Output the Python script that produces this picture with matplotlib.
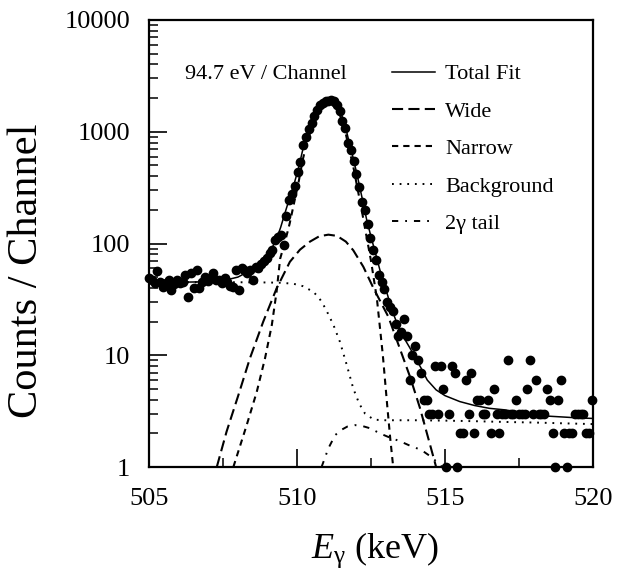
import numpy as np
import matplotlib
matplotlib.use("Agg")
import matplotlib.pyplot as plt
from matplotlib.ticker import FixedLocator, LogLocator, NullFormatter, FixedFormatter

plt.rcParams['font.family'] = ['Liberation Serif', 'DejaVu Serif']
plt.rcParams['mathtext.fontset'] = 'custom'
plt.rcParams['mathtext.rm'] = 'Liberation Serif'
plt.rcParams['mathtext.it'] = 'Liberation Serif:italic'
plt.rcParams['lines.scale_dashes'] = False

# ---- data ----
E_start = 505.0          # keV, first channel
channel_width = 0.0947   # keV (94.7 eV / channel)
counts = [49, 47, 44, 57, 45, 41, 44, 47, 38, 43, 47, 44, 45, 52, 33, 54, 40, 58, 40, 45,
          50, 46, 49, 54, 47, 47, 44, 49, 45, 42, 41, 58, 38, 60, 58, 54, 58, 47, 62, 60,
          66, 70, 74, 82, 87, 107, 115, 118, 97,
          175, 245, 280, 330, 440, 540, 760, 890, 1060, 1190, 1380, 1560, 1720, 1820, 1880,
          1900, 1920, 1870, 1740, 1520, 1250, 1080, 800, 680, 545, 420, 320, 235, 200, 150,
          112, 88,
          71, 52, 45, 39, 30, 27, 25, 19, 15, 16, 21, 15, 6, 10, 12, 9, 7,
          4, 4, 3, 3, 8, 3, 8, 5, 1, 3, 8, 7, 1, 2, 2, 6, 3, 7, 2, 4,
          4, 3, 3, 4, 2, 5, 3, 2, 3, 3, 9, 3, 3, 4, 3, 3, 3, 5, 9, 3,
          6, 3, 3, 3, 5, 4, 2, 1, 4, 6, 2, 1, 2, 2, 3, 3, 3, 3, 2, 2, 4]

fit_E = [505.0, 506.0, 507.0, 507.5, 508.0, 508.3, 508.6, 508.9, 509.1, 509.3,
         509.45, 509.6, 509.75, 509.9, 510.05, 510.2, 510.35, 510.5, 510.65, 510.8,
         510.95, 511.05, 511.15, 511.3, 511.45, 511.6, 511.75, 511.9, 512.05, 512.2,
         512.35, 512.5, 512.65, 512.8, 513.0, 513.2, 513.4, 513.6, 513.8, 514.0,
         514.2, 514.4, 514.7, 515.0, 515.5, 516.0, 516.5, 517.0, 517.5, 518.0,
         518.5, 519.0, 519.5, 520.0]
fit_V = [45, 45, 45.5, 46.5, 50, 55, 62, 74, 86, 108,
         140, 190, 255, 340, 470, 700, 960, 1230, 1500, 1720,
         1870, 1910, 1890, 1780, 1540, 1220, 830, 580, 390, 255,
         165, 115, 82, 58, 39, 26, 18.5, 14.5, 11.8, 9.5,
         7.6, 6.0, 4.9, 4.35, 3.85, 3.55, 3.35, 3.25, 3.1, 2.95,
         2.85, 2.8, 2.75, 2.72]

wide_E = [507.29, 507.62, 508.02, 508.41, 508.86, 509.31, 509.76, 510.1, 510.44, 510.75,
          511.06, 511.35, 511.65, 511.9, 512.24, 512.58, 513.09, 513.37, 513.82, 514.15,
          514.49, 514.7]
wide_V = [1.0, 2.07, 4.4, 9.4, 20, 39.6, 68.6, 88, 104, 116,
          120, 117, 104, 87, 62, 40, 22, 13.7, 6.4, 3.4,
          1.6, 1.0]

narrow_E = [507.85, 508.3, 508.64, 508.92, 509.15, 509.31, 509.43, 509.6, 509.75, 509.9,
            510.05, 510.2, 510.35, 510.5, 510.65, 510.8, 510.95, 511.05, 511.15, 511.3,
            511.45, 511.6, 511.75, 511.9, 512.05, 512.2, 512.35, 512.5, 512.7, 512.9,
            513.05, 513.15, 513.25]
narrow_V = [1.0, 2.37, 4.7, 9.4, 18.7, 37, 73, 105, 150, 230,
            350, 570, 830, 1090, 1360, 1580, 1730, 1770, 1760, 1650,
            1410, 1100, 720, 490, 305, 190, 115, 70, 32, 10,
            3.5, 1.8, 1.0]

bg_E = [505.0, 506.0, 507.0, 508.0, 509.0, 509.5, 509.9, 510.2, 510.55, 510.75,
        510.9, 511.05, 511.23, 511.45, 511.68, 511.9, 512.1, 512.3, 512.6, 513.0,
        514.0, 515.0, 516.0, 517.0, 518.0, 519.0, 520.0]
bg_V = [45, 45, 45, 45, 44.8, 44.5, 43.5, 41.5, 37, 32.5,
        28, 23.5, 18.7, 13.2, 8.2, 5.05, 3.7, 3.0, 2.65, 2.62,
        2.62, 2.6, 2.57, 2.53, 2.5, 2.46, 2.42]

tail_E = [510.83, 511.06, 511.29, 511.5, 511.7, 511.96, 512.2, 512.47, 512.8, 513.1,
          513.48, 513.82, 514.2, 514.5, 514.66, 514.9]
tail_V = [1.0, 1.47, 1.93, 2.15, 2.3, 2.37, 2.33, 2.22, 2.0, 1.85,
          1.7, 1.55, 1.42, 1.25, 1.15, 1.0]

x_ticks = [505, 510, 515, 520]
x_minor = [507.5, 512.5, 517.5]
y_ticks = [1, 10, 100, 1000, 10000]
y_ticklabels = ['1', '10', '100', '1000', '10000']

labels = ['Total Fit', 'Wide', 'Narrow', 'Background', '2\u03b3 tail']

# ---- figure ----
fig = plt.figure(figsize=(6.19, 5.82), dpi=100)
ax = fig.add_axes([149/619, 1-467/582, 444/619, 447/582])

chan_E = E_start + channel_width * np.arange(len(counts))

l_fit, = ax.plot(fit_E, fit_V, color='black', lw=1.1, ls='-', zorder=2)
l_wide, = ax.plot(wide_E, wide_V, color='black', lw=1.5, ls=(0, (8.0, 3.8)), zorder=2)
l_nar, = ax.plot(narrow_E, narrow_V, color='black', lw=1.5, ls=(0, (4.5, 3.6)), zorder=2)
l_bg, = ax.plot(bg_E, bg_V, color='black', lw=1.4, ls=(0, (1.3, 4.2)), zorder=2)
l_tail, = ax.plot(tail_E, tail_V, color='black', lw=1.4, ls=(0, (4.5, 5.0, 1.3, 5.0)), zorder=2)

ax.plot(chan_E, counts, ls='none', marker='o', ms=6.0, color='black',
        clip_on=False, zorder=3)

ax.set_yscale('log')
ax.set_xlim(505, 520)
ax.set_ylim(1, 10000)

ax.xaxis.set_major_locator(FixedLocator(x_ticks))
ax.xaxis.set_minor_locator(FixedLocator(x_minor))
ax.set_xticklabels([str(t) for t in x_ticks])
ax.yaxis.set_major_locator(FixedLocator(y_ticks))
ax.yaxis.set_major_formatter(FixedFormatter(y_ticklabels))
ax.yaxis.set_minor_locator(LogLocator(base=10, subs=np.arange(2, 10)))
ax.yaxis.set_minor_formatter(NullFormatter())

ax.tick_params(axis='both', which='major', direction='in', length=13, width=1.2,
               labelsize=19, top=False, right=False)
ax.tick_params(axis='both', which='minor', direction='in', length=6.5, width=1.1,
               top=False, right=False)
ax.tick_params(axis='x', which='major', pad=15)
ax.tick_params(axis='y', which='major', pad=13.5)

for s in ax.spines.values():
    s.set_linewidth(1.6)

ax.set_xlabel(r'$E_{\mathrm{\gamma}}$ (keV)', fontsize=26)
ax.xaxis.label.set_va('center')
ax.xaxis.set_label_coords(0.509, -0.186)
ax.set_ylabel('Counts / Channel', fontsize=30.5)
ax.yaxis.label.set_va('center')
ax.yaxis.set_label_coords(-0.275, 0.44)

ax.text(0.081, 0.878, '94.7 eV / Channel', transform=ax.transAxes,
        fontsize=16, ha='left', va='center')

ax.legend([l_fit, l_wide, l_nar, l_bg, l_tail], labels, loc='upper left',
          bbox_to_anchor=(0.547, 0.902), frameon=False, fontsize=16,
          handlelength=1.94, handletextpad=0.45, labelspacing=0.76,
          borderpad=0, borderaxespad=0)

fig.savefig('out.png', dpi=100)
